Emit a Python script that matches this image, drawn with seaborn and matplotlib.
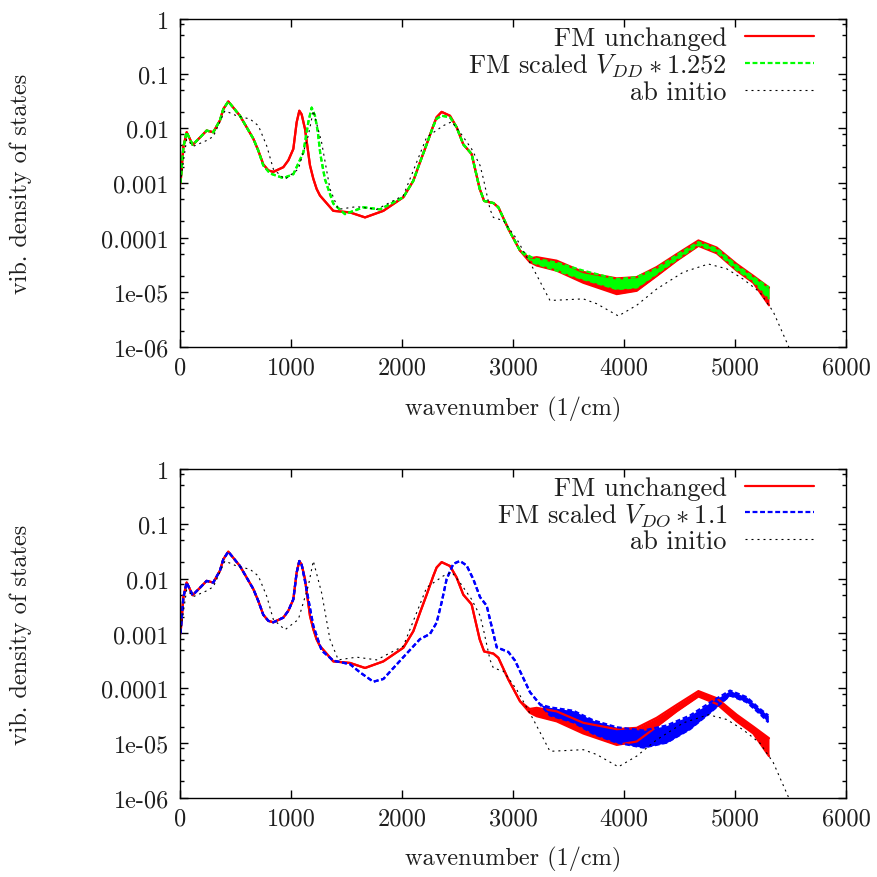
import numpy as np
import pandas as pd
import matplotlib
matplotlib.use("Agg")
import matplotlib.pyplot as plt
import seaborn as sns
from matplotlib.ticker import FixedLocator, NullFormatter

# ---------------- data ----------------
# FM unchanged (red) : wavenumber, lower / upper edge of the noisy band
red_wn = [5, 30, 60, 114, 170, 240, 300, 360, 390, 435, 480, 540, 660, 706, 750, 796, 841,
          931, 976, 1021, 1051, 1075, 1096, 1126, 1171, 1201, 1231, 1261, 1381, 1532, 1667,
          1832, 2012, 2102, 2162, 2222, 2282, 2312, 2357, 2432, 2492, 2552, 2627, 2700, 2740,
          2823, 2868, 2958, 3063, 3150, 3213, 3393, 3633, 3934, 4114, 4294, 4474, 4670, 4835,
          5015, 5165, 5306]
red_hi = [1.0e-3, 4.5e-3, 8.5e-3, 5.0e-3, 6.5e-3, 9.1e-3, 8.5e-3, 1.4e-2, 2.25e-2, 3.1e-2,
          2.4e-2, 1.7e-2, 6.5e-3, 3.9e-3, 2.2e-3, 1.7e-3, 1.6e-3, 1.95e-3, 2.6e-3, 4.2e-3,
          1.29e-2, 2.1e-2, 1.8e-2, 9.8e-3, 2.1e-3, 1.2e-3, 7.8e-4, 5.9e-4, 3.1e-4, 2.9e-4,
          2.35e-4, 3.1e-4, 5.5e-4, 1.1e-3, 2.4e-3, 5.1e-3, 1.12e-2, 1.6e-2, 2.0e-2, 1.7e-2,
          1.05e-2, 5.1e-3, 3.4e-3, 7.8e-4, 4.7e-4, 4.3e-4, 3.6e-4, 1.45e-4, 5.8e-5, 4.2e-5,
          4.4e-5, 3.8e-5, 2.35e-5, 1.8e-5, 1.9e-5, 2.9e-5, 5.0e-5, 8.9e-5, 6.6e-5, 3.3e-5,
          2.0e-5, 1.23e-5]
red_lo = [1.0e-3, 4.5e-3, 8.5e-3, 5.0e-3, 6.5e-3, 9.1e-3, 8.5e-3, 1.4e-2, 2.25e-2, 3.1e-2,
          2.4e-2, 1.7e-2, 6.5e-3, 3.9e-3, 2.2e-3, 1.7e-3, 1.6e-3, 1.95e-3, 2.6e-3, 4.2e-3,
          1.29e-2, 2.1e-2, 1.8e-2, 9.8e-3, 2.1e-3, 1.2e-3, 7.8e-4, 5.9e-4, 3.1e-4, 2.9e-4,
          2.35e-4, 3.1e-4, 5.5e-4, 1.1e-3, 2.4e-3, 5.1e-3, 1.12e-2, 1.6e-2, 2.0e-2, 1.7e-2,
          1.05e-2, 5.1e-3, 3.4e-3, 7.8e-4, 4.7e-4, 4.3e-4, 3.6e-4, 1.45e-4, 5.8e-5, 3.6e-5,
          3.1e-5, 2.5e-5, 1.5e-5, 9.3e-6, 1.07e-5, 2.0e-5, 3.8e-5, 7.1e-5, 5.2e-5, 2.5e-5,
          1.5e-5, 5.8e-6]

# FM scaled V_DD * 1.252 (green)
green_wn = [5, 30, 60, 114, 170, 240, 300, 360, 390, 435, 480, 540, 660, 706, 750, 811, 931,
            1021, 1111, 1156, 1186, 1216, 1240, 1265, 1306, 1381, 1486, 1652, 1802, 2012, 2102,
            2162, 2222, 2282, 2312, 2357, 2432, 2492, 2552, 2627, 2700, 2740, 2823, 2868, 2958,
            3063, 3183, 3393, 3633, 3934, 4114, 4294, 4474, 4670, 4835, 5015, 5165, 5306]
green_hi = [1.0e-3, 4.5e-3, 8.5e-3, 5.0e-3, 6.5e-3, 9.1e-3, 8.5e-3, 1.4e-2, 2.25e-2, 3.1e-2,
            2.4e-2, 1.7e-2, 6.5e-3, 3.9e-3, 2.1e-3, 1.5e-3, 1.23e-3, 1.45e-3, 3.6e-3, 1.3e-2,
            2.4e-2, 1.7e-2, 9.0e-3, 3.3e-3, 1.17e-3, 4.2e-4, 2.7e-4, 3.6e-4, 3.3e-4, 5.5e-4,
            1.1e-3, 2.4e-3, 5.1e-3, 1.1e-2, 1.5e-2, 1.7e-2, 1.6e-2, 1.05e-2, 5.1e-3, 3.4e-3,
            7.8e-4, 4.7e-4, 4.3e-4, 3.6e-4, 1.45e-4, 5.8e-5, 4.2e-5, 3.5e-5, 2.5e-5, 1.74e-5,
            1.9e-5, 2.75e-5, 4.8e-5, 8.3e-5, 6.3e-5, 3.1e-5, 1.9e-5, 1.23e-5]
green_lo = [1.0e-3, 4.5e-3, 8.5e-3, 5.0e-3, 6.5e-3, 9.1e-3, 8.5e-3, 1.4e-2, 2.25e-2, 3.1e-2,
            2.4e-2, 1.7e-2, 6.5e-3, 3.9e-3, 2.1e-3, 1.5e-3, 1.23e-3, 1.45e-3, 3.6e-3, 1.3e-2,
            2.4e-2, 1.7e-2, 9.0e-3, 3.3e-3, 1.17e-3, 4.2e-4, 2.7e-4, 3.6e-4, 3.3e-4, 5.5e-4,
            1.1e-3, 2.4e-3, 5.1e-3, 1.1e-2, 1.5e-2, 1.7e-2, 1.6e-2, 1.05e-2, 5.1e-3, 3.4e-3,
            7.8e-4, 4.7e-4, 4.3e-4, 3.6e-4, 1.45e-4, 5.8e-5, 3.5e-5, 2.5e-5, 1.74e-5, 1.15e-5,
            1.23e-5, 2.2e-5, 4.0e-5, 7.4e-5, 5.5e-5, 2.6e-5, 1.6e-5, 7.6e-6]

# FM scaled V_DO * 1.1 (blue)
blue_wn = [5, 30, 60, 114, 170, 240, 300, 360, 390, 435, 480, 540, 660, 706, 750, 796, 841,
           931, 976, 1021, 1051, 1075, 1096, 1126, 1201, 1276, 1381, 1532, 1622, 1742, 1832,
           2012, 2162, 2252, 2312, 2357, 2402, 2462, 2522, 2582, 2642, 2703, 2763, 2853, 2958,
           3018, 3153, 3243, 3333, 3544, 3724, 3934, 4174, 4384, 4595, 4775, 4955, 5105, 5225,
           5300]
blue_hi = [1.0e-3, 4.5e-3, 8.5e-3, 5.0e-3, 6.5e-3, 9.1e-3, 8.5e-3, 1.4e-2, 2.25e-2, 3.1e-2,
           2.4e-2, 1.7e-2, 6.5e-3, 3.9e-3, 2.2e-3, 1.7e-3, 1.6e-3, 1.95e-3, 2.6e-3, 4.2e-3,
           1.29e-2, 2.1e-2, 1.8e-2, 9.0e-3, 1.38e-3, 4.9e-4, 3.2e-4, 2.75e-4, 1.95e-4, 1.32e-4,
           1.48e-4, 3.7e-4, 7.9e-4, 9.8e-4, 1.58e-3, 3.7e-3, 9.8e-3, 1.86e-2, 2.1e-2, 1.74e-2,
           9.8e-3, 4.6e-3, 3.2e-3, 5.6e-4, 4.6e-4, 3.2e-4, 8.5e-5, 5.1e-5, 4.5e-5, 3.9e-5,
           2.6e-5, 1.95e-5, 1.7e-5, 2.1e-5, 3.2e-5, 5.5e-5, 9.1e-5, 6.9e-5, 4.2e-5, 3.2e-5]
blue_lo = [1.0e-3, 4.5e-3, 8.5e-3, 5.0e-3, 6.5e-3, 9.1e-3, 8.5e-3, 1.4e-2, 2.25e-2, 3.1e-2,
           2.4e-2, 1.7e-2, 6.5e-3, 3.9e-3, 2.2e-3, 1.7e-3, 1.6e-3, 1.95e-3, 2.6e-3, 4.2e-3,
           1.29e-2, 2.1e-2, 1.8e-2, 9.0e-3, 1.38e-3, 4.9e-4, 3.2e-4, 2.75e-4, 1.95e-4, 1.32e-4,
           1.48e-4, 3.7e-4, 7.9e-4, 9.8e-4, 1.58e-3, 3.7e-3, 9.8e-3, 1.86e-2, 2.1e-2, 1.74e-2,
           9.8e-3, 4.6e-3, 3.2e-3, 5.6e-4, 4.6e-4, 3.2e-4, 8.5e-5, 5.1e-5, 3.2e-5, 2.4e-5,
           1.48e-5, 1.02e-5, 8.3e-6, 1.02e-5, 1.8e-5, 3.6e-5, 7.4e-5, 5.6e-5, 3.4e-5, 2.4e-5]

# ab initio (black dotted)
abi_wn = [10, 60, 120, 240, 300, 405, 510, 631, 706, 781, 841, 946, 1066, 1156, 1201, 1276,
          1351, 1426, 1591, 1772, 2012, 2222, 2372, 2447, 2522, 2627, 2703, 2733, 2793, 2823,
          2913, 3033, 3183, 3333, 3633, 3754, 3949, 4114, 4294, 4535, 4760, 4925, 5075, 5225,
          5345, 5480, 5520]
abi_val = [1.3e-3, 6.3e-3, 4.7e-3, 6.0e-3, 7.1e-3, 2.1e-2, 1.7e-2, 1.48e-2, 1.12e-2, 4.8e-3,
           1.8e-3, 1.17e-3, 1.8e-3, 7.4e-3, 2.1e-2, 5.5e-3, 7.8e-4, 3.3e-4, 3.7e-4, 3.3e-4,
           5.9e-4, 6.9e-3, 1.12e-2, 1.32e-2, 8.5e-3, 4.2e-3, 2.1e-3, 1.2e-3, 3.3e-4, 2.35e-4,
           2.05e-4, 9.5e-5, 2.7e-5, 7.1e-6, 7.6e-6, 6.2e-6, 3.7e-6, 5.8e-6, 1.15e-5, 2.35e-5,
           3.3e-5, 2.7e-5, 1.74e-5, 1.0e-5, 4.4e-6, 1.05e-6, 6.0e-7]

xtick_vals = [0, 1000, 2000, 3000, 4000, 5000, 6000]
xtick_labels = ["0", "1000", "2000", "3000", "4000", "5000", "6000"]
ytick_vals = [1e-6, 1e-5, 1e-4, 1e-3, 1e-2, 1e-1, 1]
ytick_labels = ["1e-06", "1e-05", "0.0001", "0.001", "0.01", "0.1", "1"]

label_red = "FM unchanged"
label_green = r"FM scaled $V_{DD} \ast 1.252$"
label_blue = r"FM scaled $V_{DO} \ast 1.1$"
label_abi = "ab initio"

# ---------------- style ----------------
sns.set_style("ticks")
plt.rcParams["font.family"] = ["cmr10", "DejaVu Serif"]
plt.rcParams["mathtext.fontset"] = "cm"
plt.rcParams["axes.formatter.use_mathtext"] = True
plt.rcParams["axes.unicode_minus"] = False
FS = 17.5
LFS = 19
TXT = "#1e1e1e"

fig = plt.figure(figsize=(8.78, 8.78), dpi=100)
ax1 = fig.add_axes([0.2050, 0.6036, 0.7586, 0.3736])
ax2 = fig.add_axes([0.2050, 0.0900, 0.7586, 0.3747])

DASH = (0, (2.2, 1.2))
DOT = (0, (1.8, 3.6))


def band(ax, wn, lo, hi, color, ls, label, lw=1.6):
    sns.lineplot(x=wn, y=hi, ax=ax, color=color, linestyle=ls, lw=lw, label=label, sort=False)
    sns.lineplot(x=wn, y=lo, ax=ax, color=color, linestyle=ls, lw=lw, sort=False)
    ax.fill_between(wn, lo, hi, color=color, lw=0)


def abinitio(ax):
    sns.lineplot(x=abi_wn, y=abi_val, ax=ax, color="black", linestyle=DOT, lw=0.8,
                 label=label_abi, sort=False)


def style(ax, label_y):
    ax.set_yscale("log")
    ax.set_xlim(0, 6000)
    ax.set_ylim(1e-6, 1)
    ax.set_xticks(xtick_vals)
    ax.set_xticklabels(xtick_labels)
    ax.set_yticks(ytick_vals)
    ax.set_yticklabels(ytick_labels)
    ax.yaxis.set_minor_locator(FixedLocator([m * 10.0 ** k for k in range(-6, 0) for m in (2, 5, 8)]))
    ax.yaxis.set_minor_formatter(NullFormatter())
    ax.xaxis.set_minor_locator(FixedLocator([]))
    ax.tick_params(which="both", direction="in", top=True, right=True, color="black",
                   width=1.0, labelsize=FS, labelcolor=TXT)
    ax.tick_params(which="major", length=6)
    ax.tick_params(which="minor", length=3)
    ax.tick_params(axis="x", pad=7)
    ax.tick_params(axis="y", pad=8)
    for s in ax.spines.values():
        s.set_visible(True)
        s.set_linewidth(1.0)
        s.set_color("black")
    ax.set_xlabel("wavenumber (1/cm)", fontsize=FS, color=TXT)
    ax.set_ylabel("vib. density of states", fontsize=FS, color=TXT)
    ax.yaxis.set_label_coords(-0.222, 0.5)
    ax.xaxis.set_label_coords(0.5, label_y)
    h, l = ax.get_legend_handles_labels()
    ax.legend(h, l, loc="upper right", bbox_to_anchor=(0.952, 0.978), frameon=False,
              markerfirst=False, fontsize=LFS, handlelength=2.6, handletextpad=0.7,
              labelspacing=0.05, borderpad=0, borderaxespad=0, labelcolor=TXT)


band(ax1, red_wn, red_lo, red_hi, "#ff0000", "-", label_red)
band(ax1, green_wn, green_lo, green_hi, "#00ff00", DASH, label_green)
abinitio(ax1)
style(ax1, -0.148)

band(ax2, red_wn, red_lo, red_hi, "#ff0000", "-", label_red)
band(ax2, blue_wn, blue_lo, blue_hi, "#0000ff", DASH, label_blue)
abinitio(ax2)
style(ax2, -0.145)

fig.savefig("out.png", dpi=100)
